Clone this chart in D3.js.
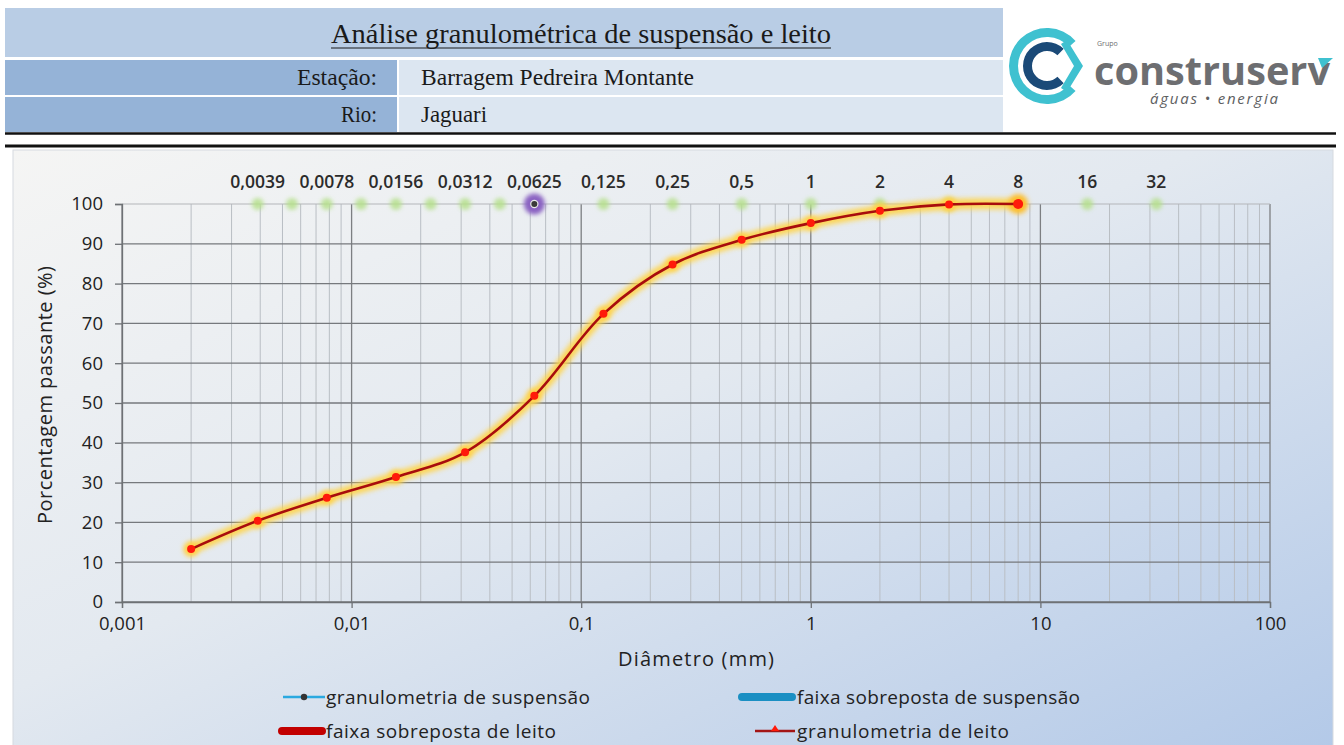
<!DOCTYPE html>
<html>
<head>
<meta charset="utf-8">
<script src="https://cdn.jsdelivr.net/npm/d3@7"></script>
<style>
  html, body { margin: 0; padding: 0; background: #ffffff; }
  svg { display: block; }
</style>
</head>
<body>
<svg id="chart" width="1344" height="745"></svg>
<script>
// ---- data ----
const bedDiameters = [0.002, 0.0039, 0.0078, 0.0156, 0.0312, 0.0625, 0.125, 0.25, 0.5, 1, 2, 4, 8];
const bedPassing   = [13.3, 20.4, 26.2, 31.4, 37.6, 51.8, 72.4, 84.8, 91.0, 95.2, 98.3, 99.9, 100];

const suspensionDiameters = [0.0625];
const suspensionPassing   = [100];

// class limits marked along the 100 % line
const classDiameters = [0.0039, 0.0055, 0.0078, 0.011, 0.0156, 0.0221, 0.0312, 0.0442, 0.125, 0.25, 0.5, 1, 2, 4, 8, 16, 32];
const classLabelValues = [0.0039, 0.0078, 0.0156, 0.0312, 0.0625, 0.125, 0.25, 0.5, 1, 2, 4, 8, 16, 32];
const classLabelTexts  = ["0,0039", "0,0078", "0,0156", "0,0312", "0,0625", "0,125", "0,25", "0,5", "1", "2", "4", "8", "16", "32"];

const xTickValues = [0.001, 0.01, 0.1, 1, 10, 100];
const xTickLabels = ["0,001", "0,01", "0,1", "1", "10", "100"];
const yTickValues = [0, 10, 20, 30, 40, 50, 60, 70, 80, 90, 100];

const headerTitle = "Análise granulométrica de suspensão e leito";
const headerRows = [["Estação:", "Barragem Pedreira Montante"], ["Rio:", "Jaguari"]];
const legendItems = ["granulometria de suspensão", "faixa sobreposta de suspensão", "faixa sobreposta de leito", "granulometria de leito"];

// ---- setup ----
const svg = d3.select("#chart");
const defs = svg.append("defs");

const bg = defs.append("linearGradient").attr("id", "panelBg")
  .attr("x1", "0%").attr("y1", "0%").attr("x2", "100%").attr("y2", "100%");
bg.append("stop").attr("offset", "0%").attr("stop-color", "#f5f5f4");
bg.append("stop").attr("offset", "45%").attr("stop-color", "#e3e9f0");
bg.append("stop").attr("offset", "100%").attr("stop-color", "#b3c9e8");

const blur = (id, sd) => defs.append("filter").attr("id", id)
  .attr("x", "-50%").attr("y", "-50%").attr("width", "200%").attr("height", "200%")
  .append("feGaussianBlur").attr("stdDeviation", sd);
blur("glow", 2.6);
blur("glowSoft", 2.2);

const font = "'Open Sans', 'Noto Sans', sans-serif";
const serif = "'Liberation Serif', 'DejaVu Serif', serif";

// ---- header table ----
const head = svg.append("g");
head.append("rect").attr("x", 5).attr("y", 8).attr("width", 998).attr("height", 49).attr("fill", "#b9cde5");
head.append("text").attr("x", 581).attr("y", 43).attr("text-anchor", "middle")
  .attr("font-family", serif).attr("font-size", 27).attr("fill", "#1a1a1a")
  .attr("textLength", 500).attr("lengthAdjust", "spacingAndGlyphs")
  .text(headerTitle);
head.append("line").attr("x1", 331).attr("x2", 831).attr("y1", 48).attr("y2", 48)
  .attr("stroke", "#1a1a1a").attr("stroke-width", 1.2);

const rowTops = [60, 97];
const labelWidths = [80, 36];
const valueWidths = [273, 66];
headerRows.forEach((r, i) => {
  const y0 = rowTops[i];
  head.append("rect").attr("x", 5).attr("y", y0).attr("width", 392).attr("height", 35).attr("fill", "#95b3d7");
  head.append("rect").attr("x", 399).attr("y", y0).attr("width", 604).attr("height", 35).attr("fill", "#dce6f1");
  head.append("text").attr("x", 377).attr("y", y0 + 25).attr("text-anchor", "end")
    .attr("font-family", serif).attr("font-size", 23).attr("fill", "#1a1a1a")
    .attr("textLength", labelWidths[i]).attr("lengthAdjust", "spacingAndGlyphs").text(r[0]);
  head.append("text").attr("x", 421).attr("y", y0 + 25)
    .attr("font-family", serif).attr("font-size", 23).attr("fill", "#1a1a1a")
    .attr("textLength", valueWidths[i]).attr("lengthAdjust", "spacingAndGlyphs").text(r[1]);
});
head.append("line").attr("x1", 5).attr("x2", 1336).attr("y1", 133.5).attr("y2", 133.5)
  .attr("stroke", "#111").attr("stroke-width", 2.5);
head.append("line").attr("x1", 5).attr("x2", 1336).attr("y1", 146).attr("y2", 146)
  .attr("stroke", "#111").attr("stroke-width", 3);

// ---- logo ----
const logo = svg.append("g");
const cx = 1047, cy = 66;
const ringArc = (ri, ro, gap) => d3.arc().innerRadius(ri).outerRadius(ro)
  .startAngle(Math.PI / 2 + gap).endAngle(Math.PI / 2 + 2 * Math.PI - gap)();
logo.append("path").attr("transform", `translate(${cx},${cy})`).attr("d", ringArc(29, 38, 0.72)).attr("fill", "#3fc1d0");
logo.append("path").attr("transform", `translate(${cx},${cy})`).attr("d", ringArc(15, 24, 0.8)).attr("fill", "#1b4a78");
logo.append("path").attr("d", `M${cx + 20},${cy - 26} L${cx + 36},${cy} L${cx + 20},${cy + 26} L${cx + 14},${cy + 22} L${cx + 27},${cy} L${cx + 14},${cy - 22} Z`)
  .attr("fill", "#3fc1d0");
logo.append("text").attr("x", 1097).attr("y", 46).attr("font-family", font).attr("font-size", 7)
  .attr("fill", "#6d6e71").text("Grupo");
logo.append("text").attr("x", 1094).attr("y", 85).attr("font-family", font).attr("font-weight", 700)
  .attr("font-size", 40).attr("fill", "#6d6e71").attr("textLength", 236).attr("lengthAdjust", "spacingAndGlyphs")
  .text("construserv");
logo.append("path").attr("d", "M1318,58 L1333,58 L1322,68 Z").attr("fill", "#3fc1d0");
logo.append("text").attr("x", 1150).attr("y", 104).attr("font-family", font).attr("font-style", "italic")
  .attr("font-size", 15).attr("fill", "#5d5e61").attr("textLength", 128).text("águas • energia");

// ---- chart panel ----
svg.append("rect").attr("x", 13).attr("y", 150).attr("width", 1320).attr("height", 600)
  .attr("fill", "url(#panelBg)").attr("stroke", "#d6dadf").attr("stroke-width", 1);

const x = d3.scaleLog().domain([0.001, 100]).range([122, 1270]);
const y = d3.scaleLinear().domain([0, 100]).range([602, 204]);

const grid = svg.append("g");
const allX = x.ticks();
allX.forEach(v => {
  const major = Math.abs(Math.log10(v) - Math.round(Math.log10(v))) < 1e-9;
  grid.append("line").attr("x1", x(v)).attr("x2", x(v)).attr("y1", y(0)).attr("y2", y(100))
    .attr("stroke", major ? "#7d7f82" : "#b9bec4").attr("stroke-width", major ? 1.3 : 1);
});
yTickValues.forEach(v => {
  grid.append("line").attr("x1", x(0.001)).attr("x2", x(100)).attr("y1", y(v)).attr("y2", y(v))
    .attr("stroke", v === 100 ? "#b3b6ba" : "#76797d").attr("stroke-width", v === 100 ? 1.2 : 1.3);
});

// axes
const yAxis = svg.append("g").attr("transform", `translate(${x(0.001)},0)`)
  .call(d3.axisLeft(y).tickValues(yTickValues).tickSize(7).tickPadding(12));
yAxis.select(".domain").attr("stroke", "#6e7175").attr("stroke-width", 1.3);
yAxis.selectAll(".tick line").attr("stroke", "#6e7175").attr("stroke-width", 1.3);
yAxis.selectAll(".tick text").attr("font-family", font).attr("font-size", 18.5).attr("fill", "#222");

const xAxis = svg.append("g").attr("transform", `translate(0,${y(0)})`)
  .call(d3.axisBottom(x).tickValues(xTickValues).tickFormat((d, i) => xTickLabels[i]).tickSize(6).tickPadding(9));
xAxis.select(".domain").attr("stroke", "#6e7175").attr("stroke-width", 1.3);
xAxis.selectAll(".tick line").attr("stroke", "#6e7175").attr("stroke-width", 1.3);
xAxis.selectAll(".tick text").attr("font-family", font).attr("font-size", 18.5).attr("fill", "#222");

// axis titles
svg.append("text").attr("transform", "translate(52,395) rotate(-90)").attr("text-anchor", "middle")
  .attr("font-family", font).attr("font-size", 20).attr("fill", "#222")
  .attr("textLength", 258).text("Porcentagem passante (%)");
svg.append("text").attr("x", 696).attr("y", 666).attr("text-anchor", "middle")
  .attr("font-family", font).attr("font-size", 20).attr("fill", "#222")
  .attr("textLength", 156).text("Diâmetro  (mm)");

// class markers on the 100 % line
const cls = svg.append("g");
cls.selectAll("circle.g").data(classDiameters).join("circle")
  .attr("cx", d => x(d)).attr("cy", y(100)).attr("r", 6).attr("fill", "#b6e08c")
  .attr("opacity", 0.85).attr("filter", "url(#glowSoft)");
cls.selectAll("text").data(classLabelValues).join("text")
  .attr("x", d => x(d)).attr("y", 188).attr("text-anchor", "middle")
  .attr("font-family", font).attr("font-weight", 600).attr("font-size", 17.5).attr("fill", "#2b2b2b")
  .text((d, i) => classLabelTexts[i]);

// bed granulometry curve
const bed = bedDiameters.map((d, i) => [d, bedPassing[i]]);
const line = d3.line().x(d => x(d[0])).y(d => y(d[1])).curve(d3.curveCatmullRom.alpha(0.5));
const curve = svg.append("g");
curve.append("path").attr("d", line(bed)).attr("fill", "none").attr("stroke", "#ffd449")
  .attr("stroke-width", 11).attr("stroke-linecap", "round").attr("opacity", 0.9).attr("filter", "url(#glow)");
curve.selectAll("circle.halo").data(bed).join("circle").attr("class", "halo")
  .attr("cx", d => x(d[0])).attr("cy", d => y(d[1]))
  .attr("r", (d, i) => i === bed.length - 1 ? 10 : 7.5)
  .attr("fill", (d, i) => i === bed.length - 1 ? "#ffbe2e" : "#ffd24a")
  .attr("filter", "url(#glow)");
curve.append("path").attr("d", line(bed)).attr("fill", "none").attr("stroke", "#a80d0d")
  .attr("stroke-width", 2.6);
curve.selectAll("circle.pt").data(bed).join("circle").attr("class", "pt")
  .attr("cx", d => x(d[0])).attr("cy", d => y(d[1])).attr("r", (d, i) => i === bed.length - 1 ? 5 : 4)
  .attr("fill", "#ff1a0a");

// suspension granulometry point
const susp = suspensionDiameters.map((d, i) => [d, suspensionPassing[i]]);
svg.selectAll("circle.sh").data(susp).join("circle").attr("class", "sh")
  .attr("cx", d => x(d[0])).attr("cy", d => y(d[1])).attr("r", 10.5).attr("fill", "#8a62c2")
  .attr("filter", "url(#glowSoft)");
svg.selectAll("circle.sp").data(susp).join("circle").attr("class", "sp")
  .attr("cx", d => x(d[0])).attr("cy", d => y(d[1])).attr("r", 3.6).attr("fill", "#3a3a3a")
  .attr("stroke", "#e8e8e8").attr("stroke-width", 1.2);

// ---- legend ----
const lg = svg.append("g").attr("font-family", font).attr("font-size", 19).attr("fill", "#222");
const legendWidths = [264, 283, 230, 212];
// granulometria de suspensão
lg.append("line").attr("x1", 283).attr("x2", 325).attr("y1", 697).attr("y2", 697).attr("stroke", "#2aa9e0").attr("stroke-width", 2.4);
lg.append("circle").attr("cx", 304).attr("cy", 697).attr("r", 3.2).attr("fill", "#333");
lg.append("text").attr("x", 326).attr("y", 704).attr("textLength", legendWidths[0]).text(legendItems[0]);
// faixa sobreposta de suspensão
lg.append("line").attr("x1", 742).attr("x2", 792).attr("y1", 697).attr("y2", 697).attr("stroke", "#1a8fc3")
  .attr("stroke-width", 8).attr("stroke-linecap", "round");
lg.append("text").attr("x", 797).attr("y", 704).attr("textLength", legendWidths[1]).text(legendItems[1]);
// faixa sobreposta de leito
lg.append("line").attr("x1", 282).attr("x2", 322).attr("y1", 731).attr("y2", 731).attr("stroke", "#c20000")
  .attr("stroke-width", 8).attr("stroke-linecap", "round");
lg.append("text").attr("x", 326).attr("y", 738).attr("textLength", legendWidths[2]).text(legendItems[2]);
// granulometria de leito
lg.append("line").attr("x1", 755).attr("x2", 795).attr("y1", 731).attr("y2", 731).attr("stroke", "#a31515").attr("stroke-width", 2.4);
lg.append("path").attr("d", "M771,731 L775,725 L779,731 Z").attr("fill", "#ff1a0a");
lg.append("text").attr("x", 797).attr("y", 738).attr("textLength", legendWidths[3]).text(legendItems[3]);
</script>
</body>
</html>
